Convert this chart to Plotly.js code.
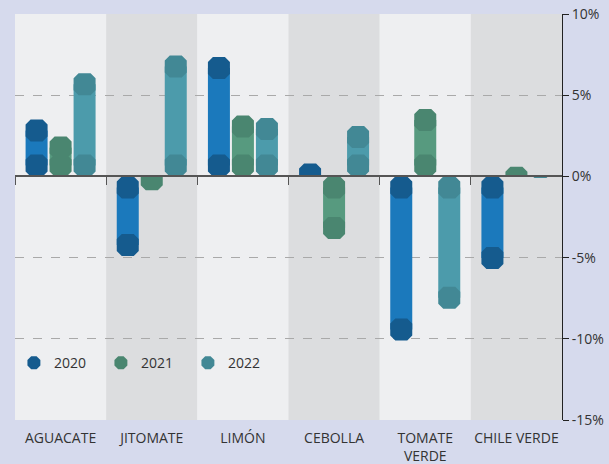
<!DOCTYPE html>
<html>
<head>
<meta charset="utf-8">
<script src="https://cdn.plot.ly/plotly-3.0.1.min.js"></script>
<style>html,body{margin:0;padding:0;background:#d6daed;}#chart{width:609px;height:464px;}</style>
</head>
<body>
<div id="chart"></div>
<script>
// ---- data ----
const categories = ['AGUACATE', 'JITOMATE', 'LIMÓN', 'CEBOLLA', 'TOMATE<br>VERDE', 'CHILE VERDE'];
const years = ['2020', '2021', '2022'];
const v2020 = [3.5, -4.9, 7.35, 0.8, -10.1, -5.7];
const v2021 = [2.45, -0.85, 3.75, -3.85, 4.15, 0.6];
const v2022 = [6.35, 7.45, 3.6, 3.1, -8.15, -0.1];
const yTickVals = [-15, -10, -5, 0, 5, 10];
const yTickText = ['-15%', '-10%', '-5%', '0%', '5%', '10%'];

// ---- style ----
const bodyColors = ['#1b79bc', '#579a7f', '#4c9bab'];
const capColors = ['#155b8e', '#4a8670', '#428895'];
const colLight = '#eeeff1', colDark = '#dcdddf';
const W = 609, H = 464, M = {l: 15, r: 47, t: 14, b: 44, pad: 0};
const XR = [-0.5, 5.5], YR = [-15, 10];
const pxX = (W - M.l - M.r) / (XR[1] - XR[0]);
const pxY = (H - M.t - M.b) / (YR[1] - YR[0]);
const capPx = 22, chamferPx = 5, spacingPx = 24;
const barW = capPx / pxX, capH = capPx / pxY;
const offsets = [-spacingPx / pxX, 0, spacingPx / pxX];
const series = [v2020, v2021, v2022];

function octagon(xc, yc) {
  const h = capPx / 2, c = chamferPx;
  const pts = [[-h + c, -h], [h - c, -h], [h, -h + c], [h, h - c], [h - c, h], [-h + c, h], [-h, h - c], [-h, -h + c]];
  return pts.map(p => [xc + p[0] / pxX, yc + p[1] / pxY]);
}
function clipBand(poly, lo, hi) {
  function clip(pts, inside, inter) {
    const out = [];
    for (let i = 0; i < pts.length; i++) {
      const a = pts[i], b = pts[(i + 1) % pts.length];
      const ia = inside(a), ib = inside(b);
      if (ia) out.push(a);
      if (ia !== ib) out.push(inter(a, b));
    }
    return out;
  }
  const at = y => (a, b) => [a[0] + (b[0] - a[0]) * (y - a[1]) / (b[1] - a[1]), y];
  let p = clip(poly, q => q[1] >= lo, at(lo));
  if (p.length) p = clip(p, q => q[1] <= hi, at(hi));
  return p;
}

const traces = [];
const xIdx = categories.map((_, i) => i);
series.forEach((vals, k) => {
  const bx = [], by = [], bb = [];
  const px = [], py = [];
  vals.forEach((v, i) => {
    const s = v >= 0 ? 1 : -1;
    const x = xIdx[i] + offsets[k];
    const big = Math.abs(v) > capH;
    if (big) {
      bx.push(x); bb.push(s * capH / 2); by.push(v - s * capH);
    }
    const lo = Math.min(0, v), hi = Math.max(0, v);
    const centers = big ? [v - s * capH / 2, s * capH / 2] : [v - s * capH / 2];
    centers.forEach(yc => {
      const poly = clipBand(octagon(x, yc), lo, hi);
      if (poly.length > 2) {
        poly.forEach(p => { px.push(p[0]); py.push(p[1]); });
        px.push(null); py.push(null);
      }
    });
  });
  traces.push({type: 'bar', x: bx, y: by, base: bb, width: barW, marker: {color: bodyColors[k], line: {width: 0}}, showlegend: false, hoverinfo: 'skip'});
  traces.push({type: 'scatter', mode: 'lines', x: px, y: py, fill: 'toself', fillcolor: capColors[k], line: {width: 0, color: capColors[k]}, showlegend: false, hoverinfo: 'skip', connectgaps: false});
});
years.forEach((yr, k) => {
  traces.push({type: 'scatter', mode: 'markers', name: yr, x: [null], y: [null], xaxis: 'x2', marker: {symbol: 'octagon', size: 14, color: capColors[k]}, showlegend: true});
});

const shapes = categories.map((_, i) => ({type: 'rect', xref: 'x', yref: 'paper', x0: xIdx[i] - 0.5, x1: xIdx[i] + 0.5, y0: 0, y1: 1, fillcolor: i % 2 ? colDark : colLight, line: {width: 0}, layer: 'below'}));

const layout = {
  width: W, height: H, margin: M,
  paper_bgcolor: '#d6daed', plot_bgcolor: colLight,
  font: {family: '"Open Sans", sans-serif', size: 14, color: '#333'},
  barmode: 'overlay',
  showlegend: true,
  legend: {orientation: 'h', x: -0.002, xanchor: 'left', y: 0.14, yanchor: 'middle', bgcolor: 'rgba(0,0,0,0)', font: {size: 14, color: '#333'}, entrywidth: 42, entrywidthmode: 'pixels'},
  xaxis: {range: XR, tickvals: xIdx, ticktext: categories, ticks: '', ticklabelstandoff: 8, showgrid: false, zeroline: false, showline: false, fixedrange: true, tickfont: {size: 14, color: '#333'}},
  xaxis2: {overlaying: 'x', anchor: 'free', position: 0.6, range: XR, tickvals: [-0.5, 0.5, 1.5, 2.5, 3.5, 4.5], ticks: 'outside', ticklen: 8, tickcolor: '#555', tickwidth: 1, showline: true, linecolor: '#555', linewidth: 2, showticklabels: false, showgrid: false, zeroline: false},
  yaxis: {range: YR, side: 'right', tickvals: yTickVals, ticktext: yTickText, showline: true, linecolor: '#222', linewidth: 1, ticks: 'outside', ticklen: 6, tickcolor: '#222', showgrid: true, gridcolor: '#a9a9a9', griddash: 'dash', gridwidth: 1, zeroline: false, tickfont: {size: 14, color: '#333'}},
  shapes: shapes
};
Plotly.newPlot('chart', traces, layout, {staticPlot: true, displayModeBar: false});
</script>
</body>
</html>
